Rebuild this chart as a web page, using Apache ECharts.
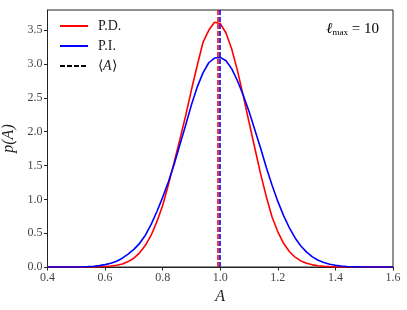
<!DOCTYPE html>
<html>
<head>
<meta charset="utf-8">
<script src="https://cdn.jsdelivr.net/npm/echarts@6/dist/echarts.min.js"></script>
<style>html,body{margin:0;padding:0;background:#fff}#c{width:407px;height:310px}</style>
</head>
<body>
<div id="c"></div>
<script>
const A = [0.40,0.42,0.44,0.46,0.48,0.50,0.52,0.54,0.56,0.58,0.60,0.62,0.64,0.66,0.68,0.70,0.72,0.74,0.76,0.78,0.80,0.82,0.84,0.86,0.88,0.90,0.92,0.94,0.96,0.98,1.00,1.02,1.04,1.06,1.08,1.10,1.12,1.14,1.16,1.18,1.20,1.22,1.24,1.26,1.28,1.30,1.32,1.34,1.36,1.38,1.40,1.42,1.44,1.46,1.48,1.50,1.52,1.54,1.56,1.58,1.60];
const pPD = [0,0,0,0,0,0,0,0,0.002,0.004,0.008,0.015,0.027,0.045,0.08,0.13,0.21,0.32,0.47,0.67,0.91,1.22,1.55,1.89,2.24,2.62,2.98,3.32,3.50,3.62,3.60,3.46,3.22,2.90,2.53,2.14,1.76,1.38,1.04,0.74,0.52,0.35,0.23,0.145,0.09,0.055,0.032,0.018,0.01,0.005,0.002,0,0,0,0,0,0,0,0,0,0];
const pPI = [0,0,0,0,0,0.001,0.003,0.006,0.012,0.02,0.035,0.055,0.085,0.13,0.19,0.26,0.35,0.47,0.63,0.82,1.03,1.26,1.52,1.81,2.10,2.40,2.66,2.87,3.02,3.09,3.10,3.05,2.93,2.75,2.54,2.30,2.03,1.76,1.47,1.21,0.97,0.76,0.58,0.43,0.31,0.22,0.15,0.10,0.065,0.04,0.025,0.015,0.008,0.004,0.002,0,0,0,0,0,0];
const meanPD = 0.988;
const meanPI = 1.0;
const xTicks = [0.4,0.6,0.8,1.0,1.2,1.4,1.6];
const yTicks = [0.0,0.5,1.0,1.5,2.0,2.5,3.0,3.5];
const names = ['P.D.','P.I.','⟨A⟩'];

const serif = 'Liberation Serif';
const chart = echarts.init(document.getElementById('c'), null, {renderer:'canvas'});
function pairs(ys){ return A.map((x,i)=>[x, ys[i]]); }
chart.setOption({
  animation:false,
  backgroundColor:'#fff',
  grid:{left:47.5, right:14, top:10, bottom:43, outerBoundsMode:'none', containLabel:false,
    show:true, borderColor:'#222', borderWidth:1, backgroundColor:'transparent'},
  xAxis:{type:'value', min:0.4, max:1.6, interval:0.2,
    name:'A', nameLocation:'middle', nameGap:19,
    nameTextStyle:{fontFamily:serif, fontStyle:'italic', fontSize:16, color:'#222'},
    axisLine:{show:true, onZero:false, lineStyle:{color:'#222', width:1}},
    axisTick:{show:true, inside:false, length:3.5, customValues:xTicks, lineStyle:{color:'#222'}},
    axisLabel:{fontFamily:serif, fontSize:12, color:'#444', margin:5, customValues:xTicks, formatter:v=>v.toFixed(1)},
    splitLine:{show:false}},
  yAxis:{type:'value', min:0, max:3.8,
    name:'p(A)', nameLocation:'middle', nameGap:30, nameRotate:90,
    nameTextStyle:{fontFamily:serif, fontStyle:'italic', fontSize:16, color:'#222'},
    axisLine:{show:true, lineStyle:{color:'#222', width:1}},
    axisTick:{show:true, length:3.5, customValues:yTicks, lineStyle:{color:'#222'}},
    axisLabel:{fontFamily:serif, fontSize:12, color:'#444', margin:5, customValues:yTicks, formatter:v=>v.toFixed(1)},
    splitLine:{show:false}},
  legend:{orient:'vertical', left:59, top:19, itemWidth:28, itemHeight:14, itemGap:6, padding:0,
    itemStyle:{opacity:0},
    textStyle:{fontFamily:serif, fontSize:14, color:'#222', padding:[0,0,0,5],
      rich:{n:{fontFamily:serif, fontSize:14, color:'#222'}, i:{fontFamily:serif, fontStyle:'italic', fontSize:14, color:'#222'}}},
    formatter: n => n === names[2] ? '{n|⟨}{i|A}{n|⟩}' : n,
    data:names},
  series:[
    {name:names[0], type:'line', data:pairs(pPD), symbol:'none', smooth:false, z:3,
      lineStyle:{color:'#ff0000', width:1.6}, itemStyle:{color:'#ff0000'},
      markLine:{silent:true, symbol:'none', label:{show:false},
        lineStyle:{color:'#ff0000', type:[5,2], width:1.6},
        data:[{xAxis:meanPD}]}},
    {name:names[1], type:'line', data:pairs(pPI), symbol:'none', smooth:false, z:3,
      lineStyle:{color:'#0000ff', width:1.6}, itemStyle:{color:'#0000ff'},
      markLine:{silent:true, symbol:'none', label:{show:false},
        lineStyle:{color:'#0000ff', type:[5,2], width:1.6},
        data:[{xAxis:meanPI}]}},
    {name:names[2], type:'line', data:[], symbol:'none',
      lineStyle:{color:'#000', width:1.6, type:[5,2]}, itemStyle:{color:'#000'}}
  ],
  graphic:[{type:'text', right:28, top:22,
    style:{text:'{l|ℓ}{s|max}{n| = 10}', rich:{
      l:{fontFamily:serif, fontStyle:'italic', fontSize:15, color:'#222'},
      s:{fontFamily:serif, fontSize:9, color:'#222', verticalAlign:'bottom', padding:[7,0,0,0]},
      n:{fontFamily:serif, fontSize:15, color:'#222'}}}}]
});
</script>
</body>
</html>
